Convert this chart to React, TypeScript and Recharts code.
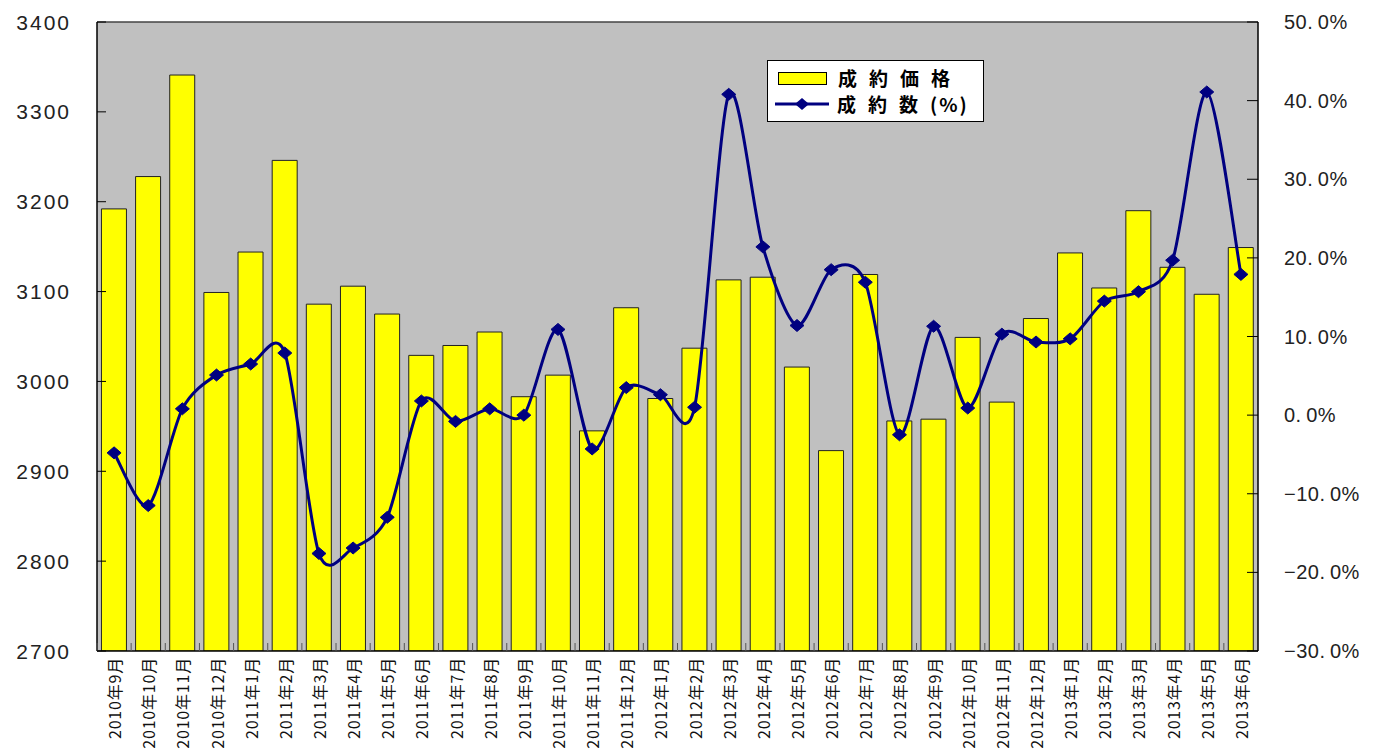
import React from 'react';
import { ComposedChart, Bar, Line, XAxis, YAxis, CartesianGrid, ReferenceLine, Legend } from 'recharts';

const months = [
  '2010年9月', '2010年10月', '2010年11月', '2010年12月',
  '2011年1月', '2011年2月', '2011年3月', '2011年4月', '2011年5月', '2011年6月',
  '2011年7月', '2011年8月', '2011年9月', '2011年10月', '2011年11月', '2011年12月',
  '2012年1月', '2012年2月', '2012年3月', '2012年4月', '2012年5月', '2012年6月',
  '2012年7月', '2012年8月', '2012年9月', '2012年10月', '2012年11月', '2012年12月',
  '2013年1月', '2013年2月', '2013年3月', '2013年4月', '2013年5月', '2013年6月',
];

// 成約価格 (left axis)
const price = [
  3192, 3228, 3341, 3099,
  3144, 3246, 3086, 3106, 3075, 3029, 3040, 3055, 2983, 3007, 2945, 3082,
  2981, 3037, 3113, 3116, 3016, 2923, 3119, 2956, 2958, 3049, 2977, 3070,
  3143, 3104, 3190, 3127, 3097, 3149,
];

// 成約数 change in % (right axis)
const pct = [
  -4.8, -11.5, 0.8, 5.1,
  6.5, 7.9, -17.6, -16.9, -13.0, 1.8, -0.8, 0.8, 0.0, 10.9, -4.3, 3.5,
  2.6, 1.0, 40.8, 21.4, 11.4, 18.5, 16.9, -2.5, 11.3, 0.9, 10.3, 9.3,
  9.7, 14.5, 15.7, 19.7, 41.1, 17.9,
];

const leftTicks = [2700, 2800, 2900, 3000, 3100, 3200, 3300, 3400];
const rightTicks = [-30, -20, -10, 0, 10, 20, 30, 40, 50];

const data = months.map((m, i) => ({ month: m, price: price[i], pct: pct[i] }));

const W = 1389;
const H = 751;
const PLOT_LEFT = 97;
const PLOT_RIGHT = 1258;
const PLOT_TOP = 22;
const PLOT_BOTTOM = 651;
const BAND = (PLOT_RIGHT - PLOT_LEFT) / months.length;

const NAVY = '#000080';
const numFont = { fontFamily: '"Liberation Sans", Arial, sans-serif', fontSize: 21, letterSpacing: 2 };
const pctFont = { fontFamily: '"Liberation Sans", Arial, sans-serif', fontSize: 20, letterSpacing: 0.5 };

// Excel-like smoothed line (cardinal spline as bezier)
function excelCurve(context: any) {
  let pts: number[][] = [];
  return {
    areaStart() {},
    areaEnd() {},
    lineStart() {
      pts = [];
    },
    point(x: number, y: number) {
      pts.push([+x, +y]);
    },
    lineEnd() {
      if (!pts.length) return;
      context.moveTo(pts[0][0], pts[0][1]);
      const t = 0.14;
      for (let i = 0; i < pts.length - 1; i++) {
        const p0 = pts[i - 1] || pts[i];
        const p1 = pts[i];
        const p2 = pts[i + 1];
        const p3 = pts[i + 2] || p2;
        context.bezierCurveTo(
          p1[0] + (p2[0] - p0[0]) * t,
          p1[1] + (p2[1] - p0[1]) * t,
          p2[0] - (p3[0] - p1[0]) * t,
          p2[1] - (p3[1] - p1[1]) * t,
          p2[0],
          p2[1],
        );
      }
    },
  };
}

const Diamond = ({ cx, cy }: any) => {
  if (cx == null || cy == null) return null;
  return (
    <polygon
      points={`${cx - 7},${cy} ${cx},${cy - 6} ${cx + 7},${cy} ${cx},${cy + 6}`}
      fill={NAVY}
      stroke={NAVY}
    />
  );
};

const LeftTick = ({ x, y, payload }: any) => (
  <g>
    <line x1={x} y1={y} x2={x + 9} y2={y} stroke="#000" />
    <text x={x - 26} y={y} textAnchor="end" dominantBaseline="central" fill="#222" style={numFont}>
      {payload.value}
    </text>
  </g>
);

const fmtPct = (v: number) => {
  const s = Math.abs(v).toFixed(1).replace('.', '.\u2009');
  return `${v < 0 ? '−' : ''}${s}%`;
};

const RightTick = ({ x, y, payload }: any) => (
  <g>
    <line x1={x} y1={y} x2={x - 11} y2={y} stroke="#000" />
    <text x={x + 26} y={y} textAnchor="start" dominantBaseline="central" fill="#222" style={pctFont}>
      {fmtPct(payload.value)}
    </text>
  </g>
);

const MonthTick = ({ x, y, payload }: any) => (
  <g>
    <line x1={x - BAND / 2} y1={y} x2={x - BAND / 2} y2={y - 8} stroke="#555" />
    <text
      transform={`translate(${x},${y + 6}) rotate(-90)`}
      textAnchor="end"
      dominantBaseline="central"
      fill="#111"
      style={{ fontFamily: '"Noto Sans CJK JP", sans-serif', fontSize: 16, letterSpacing: 0.8 }}
    >
      {payload.value}
    </text>
  </g>
);

const LegendBox = () => (
  <div
    style={{
      width: 217,
      height: 62,
      boxSizing: 'border-box',
      background: '#fff',
      border: '1px solid #000',
      fontFamily: '"Noto Sans CJK JP", sans-serif',
      fontWeight: 700,
      fontSize: 19,
      color: '#000',
      paddingTop: 4,
      whiteSpace: 'nowrap',
      overflow: 'hidden',
    }}
  >
    <div style={{ display: 'flex', alignItems: 'center', height: 26 }}>
      <div style={{ width: 47, height: 11, background: '#ffff00', border: '1px solid #000', marginLeft: 10, marginRight: 11 }} />
      <span style={{ letterSpacing: 12, lineHeight: '22px' }}>成約価格</span>
    </div>
    <div style={{ display: 'flex', alignItems: 'center', height: 25 }}>
      <svg width={54} height={16} style={{ marginLeft: 7, marginRight: 8 }}>
        <line x1={0} y1={8} x2={54} y2={8} stroke={NAVY} strokeWidth={3} />
        <polygon points="20,8 27,2 34,8 27,14" fill={NAVY} />
      </svg>
      <span style={{ letterSpacing: 12, lineHeight: '22px' }}>成約数</span>
      <span style={{ letterSpacing: 2, lineHeight: '22px', fontWeight: 600 }}>(%)</span>
    </div>
  </div>
);

export default function App() {
  return (
    <div style={{ position: 'absolute', left: 0, top: 0, width: W, height: H, background: '#fff' }}>
      <ComposedChart
        width={W}
        height={H}
        data={data}
        margin={{ top: PLOT_TOP, right: 0, bottom: 0, left: 0 }}
        barCategoryGap="13%"
      >
        <CartesianGrid fill="#c0c0c0" horizontal={false} vertical={false} />
        <XAxis
          dataKey="month"
          interval={0}
          height={H - PLOT_BOTTOM}
          tickSize={0}
          tickMargin={0}
          tickLine={false}
          axisLine={{ stroke: '#000', strokeWidth: 1.5 }}
          tick={<MonthTick />}
        />
        <YAxis
          yAxisId="left"
          orientation="left"
          width={PLOT_LEFT}
          domain={[2700, 3400]}
          ticks={leftTicks}
          allowDataOverflow
          tickSize={0}
          tickMargin={0}
          tickLine={false}
          axisLine={{ stroke: '#000', strokeWidth: 1.5 }}
          tick={<LeftTick />}
        />
        <YAxis
          yAxisId="right"
          orientation="right"
          width={W - PLOT_RIGHT}
          domain={[-30, 50]}
          ticks={rightTicks}
          allowDataOverflow
          tickSize={0}
          tickMargin={0}
          tickLine={false}
          axisLine={{ stroke: '#000', strokeWidth: 1.5 }}
          tick={<RightTick />}
        />
        <ReferenceLine yAxisId="left" y={3400} stroke="#444" strokeWidth={1.5} />
        <Legend
          layout="horizontal"
          verticalAlign="middle"
          align="center"
          content={<LegendBox />}
          wrapperStyle={{ left: 767, top: 60, width: 217, height: 62 }}
        />
        <Bar
          yAxisId="left"
          dataKey="price"
          name="成約価格"
          fill="#ffff00"
          stroke="#222"
          strokeWidth={1}
          isAnimationActive={false}
        />
        <Line
          yAxisId="right"
          dataKey="pct"
          name="成約数(%)"
          type={excelCurve as any}
          stroke={NAVY}
          strokeWidth={3}
          dot={<Diamond />}
          activeDot={false}
          isAnimationActive={false}
        />
      </ComposedChart>
    </div>
  );
}
